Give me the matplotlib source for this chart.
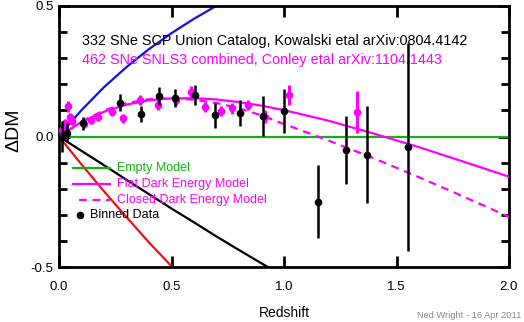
import matplotlib
matplotlib.use("Agg")
import matplotlib.pyplot as plt

plt.rcParams["font.family"] = ["Liberation Sans", "DejaVu Sans"]
plt.rcParams["axes.unicode_minus"] = False

# --- model curves (Delta DM relative to the empty model)
z_model = [0.0, 0.1, 0.2, 0.3, 0.4, 0.5, 0.6, 0.7, 0.8, 0.9, 1.0, 1.2, 1.4, 1.6, 1.8, 2.0]
flat_de = [0.0, 0.056, 0.095, 0.122, 0.139, 0.146, 0.147, 0.142, 0.132, 0.118, 0.101,
           0.060, 0.011, -0.041, -0.097, -0.154]
closed_de = [0.0, 0.058, 0.100, 0.128, 0.143, 0.147, 0.141, 0.128, 0.108, 0.081, 0.048,
             -0.016, -0.084, -0.156, -0.231, -0.308]

z_blue = [0.0, 0.05, 0.1, 0.2, 0.3, 0.4, 0.5, 0.6, 0.7, 0.8]
blue_dm = [0.0, 0.052, 0.101, 0.189, 0.266, 0.335, 0.396, 0.451, 0.501, 0.546]

z_black = [0.0, 0.1, 0.2, 0.3, 0.4, 0.5, 0.6, 0.7, 0.8, 0.9, 1.0]
black_dm = [0.0, -0.055, -0.110, -0.166, -0.221, -0.276, -0.329, -0.383, -0.435, -0.486, -0.537]

z_red = [0.0, 0.1, 0.2, 0.3, 0.4, 0.5, 0.6]
red_dm = [0.0, -0.107, -0.210, -0.309, -0.406, -0.497, -0.590]

# --- binned SCP Union data
union_z = [0.015, 0.035, 0.105, 0.27, 0.365, 0.445, 0.516, 0.604, 0.693, 0.804, 0.905,
           1.0, 1.151, 1.276, 1.369, 1.551]
union_dm = [0.0, 0.015, 0.05, 0.129, 0.087, 0.155, 0.147, 0.159, 0.082, 0.09, 0.079,
            0.098, -0.25, -0.051, -0.07, -0.04]
union_err = [0.06, 0.035, 0.025, 0.033, 0.03, 0.035, 0.035, 0.04, 0.048, 0.05, 0.078,
             0.085, 0.14, 0.13, 0.185, 0.40]

# --- SNLS3 combined
snls_z = [0.015, 0.027, 0.04, 0.05, 0.058, 0.11, 0.14, 0.175, 0.235, 0.285, 0.36, 0.44,
          0.52, 0.585, 0.649, 0.72, 0.77, 0.84, 0.916, 1.02, 1.325]
snls_dm = [0.025, 0.052, 0.115, 0.075, 0.06, 0.048, 0.064, 0.076, 0.092, 0.07, 0.14, 0.12,
           0.14, 0.172, 0.113, 0.098, 0.108, 0.12, 0.075, 0.159, 0.095]
snls_err = [0.015, 0.015, 0.02, 0.015, 0.015, 0.015, 0.015, 0.015, 0.015, 0.018, 0.018, 0.018,
            0.018, 0.02, 0.02, 0.02, 0.02, 0.02, 0.025, 0.038, 0.08]

GREEN, MAGENTA, BLUE, RED = "#11b311", "#ff00ff", "#1010e6", "#ee1111"

fig = plt.figure(figsize=(5.24, 3.22), dpi=100)
ax = fig.add_axes([59 / 524, 1 - 267 / 322, 450 / 524, 261 / 322])

ax.axhline(0, color=GREEN, lw=1.6, zorder=2)
ax.plot(z_red, red_dm, color=RED, lw=1.6, zorder=2)
ax.plot(z_black, black_dm, color="black", lw=1.6, zorder=2)
ax.plot(z_blue, blue_dm, color=BLUE, lw=1.6, zorder=2)
ax.plot(z_model, flat_de, color=MAGENTA, lw=1.6, zorder=3)
ax.plot(z_model, closed_de, color=MAGENTA, lw=1.6, dashes=(3.5, 2.6), zorder=3)

ax.errorbar(snls_z, snls_dm, yerr=snls_err, fmt="o", color=MAGENTA, ms=4.5,
            elinewidth=2.2, capsize=0, zorder=4)
ax.errorbar(union_z, union_dm, yerr=union_err, fmt="o", color="black", ms=4.5,
            elinewidth=1.8, capsize=0, zorder=5)

ax.set_xlim(0, 2)
ax.set_ylim(-0.5, 0.5)
ax.set_xticks([0, 0.5, 1.0, 1.5, 2.0])
ax.set_xticklabels(["0.0", "0.5", "1.0", "1.5", "2.0"])
ax.set_yticks([-0.5, 0, 0.5])
ax.set_yticklabels(["-0.5", "0.0", "0.5"])
ax.set_yticks([-0.4, -0.3, -0.2, -0.1, 0.1, 0.2, 0.3, 0.4], minor=True)
ax.tick_params(axis="both", which="major", direction="in", length=8, width=2,
               labelsize=9.5, top=True, right=True)
ax.tick_params(axis="x", pad=10)
ax.tick_params(axis="y", pad=4)
ax.tick_params(axis="y", which="minor", direction="in", length=6, width=2,
               left=True, right=True)
for sp in ax.spines.values():
    sp.set_linewidth(2)

ax.text(-0.101, 0.525, "ΔDM", transform=ax.transAxes, rotation=90,
        ha="center", va="center", fontsize=14)
ax.text(0.5, -0.176, "Redshift", transform=ax.transAxes, ha="center", va="center",
        fontsize=10)

ax.text(0.051, (267 - 41) / 261,
        "332 SNe SCP Union Catalog, Kowalski etal arXiv:0804.4142",
        transform=ax.transAxes, ha="left", va="center", fontsize=10.4, color="black")
ax.text(0.051, (267 - 60) / 261,
        "462 SNe SNLS3 combined, Conley etal arXiv:1104.1443",
        transform=ax.transAxes, ha="left", va="center", fontsize=10.4, color=MAGENTA)

# --- hand-made legend
rows = [(0.379, "Empty Model", GREEN, "-"),
        (0.318, "Flat Dark Energy Model", MAGENTA, "-"),
        (0.257, "Closed Dark Energy Model", MAGENTA, "--")]
for y, label, col, ls in rows:
    if ls == "-":
        ax.plot([0.031, 0.113], [y, y], color=col, lw=1.6, transform=ax.transAxes)
    else:
        ax.plot([0.045, 0.113], [y, y], color=col, lw=1.6, dashes=(3.5, 2.6),
                transform=ax.transAxes)
    ax.text(0.129, y, label, color=col, fontsize=9, ha="left", va="center",
            transform=ax.transAxes)
ax.plot([0.047], [0.199], "o", color="black", ms=4.5, transform=ax.transAxes)
ax.text(0.069, 0.199, "Binned Data", color="black", fontsize=9, ha="left", va="center",
        transform=ax.transAxes)

fig.text(521 / 524, 1 - 315 / 322, "Ned Wright - 16 Apr 2011", ha="right", va="center",
         fontsize=6.7, color="#888888")

fig.savefig("out.png", dpi=100)
